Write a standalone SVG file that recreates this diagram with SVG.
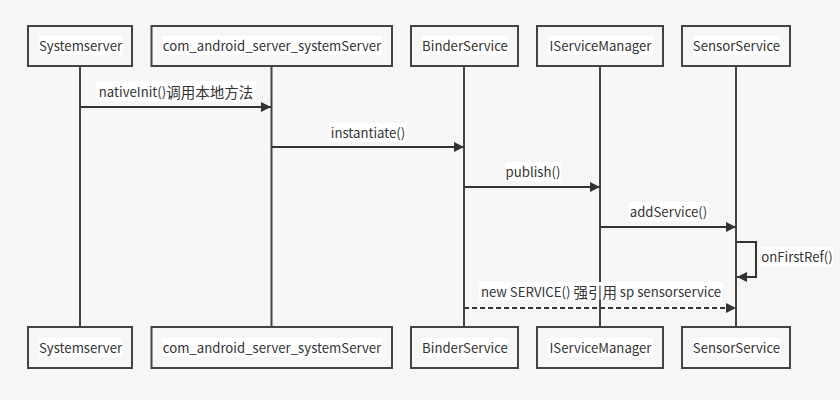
<svg xmlns="http://www.w3.org/2000/svg" width="840" height="400" viewBox="0 0 840 400">
<defs>
<style>
.box{fill:#f6f6f6;stroke:#444;stroke-width:2}
.life{stroke:#444;stroke-width:2;fill:none}
.msg{stroke:#333;stroke-width:2;fill:none}
.dash{stroke-dasharray:5,3}
.bg{fill:#ffffff}
.cjk{font-size:14.5px}
text{font-family:"Noto Sans CJK SC","Noto Sans",sans-serif;font-size:13.2px;fill:#333;text-anchor:middle;dominant-baseline:central}
</style>
<marker id="ah" viewBox="0 0 10 10" refX="10" refY="5" markerWidth="10" markerHeight="10" markerUnits="userSpaceOnUse" orient="auto">
<path d="M0,0 L10,5 L0,10 z" fill="#333"/>
</marker>
</defs>
<rect width="840" height="400" fill="#f6f6f6"/>
<g id="lifelines">
<line class="life" x1="80" y1="66" x2="80" y2="327"/>
<line class="life" x1="271.5" y1="66" x2="271.5" y2="327"/>
<line class="life" x1="464" y1="66" x2="464" y2="327"/>
<line class="life" x1="600" y1="66" x2="600" y2="327"/>
<line class="life" x1="736" y1="66" x2="736" y2="327"/>
</g>
<g id="systemserver">
<rect class="box" x="28" y="26" width="104" height="40"/>
<rect class="bg" x="39" y="36" width="83" height="19"/>
<text x="80.5" y="45.5">Systemserver</text>
<rect class="box" x="28" y="327" width="104" height="41"/>
<rect class="bg" x="39" y="338" width="83" height="19"/>
<text x="80.5" y="347">Systemserver</text>
</g>
<g id="com_android_server_systemServer">
<rect class="box" x="151.5" y="26" width="240.5" height="40"/>
<rect class="bg" x="162" y="36" width="220" height="19"/>
<text x="272" y="45.5">com_android_server_systemServer</text>
<rect class="box" x="151.5" y="327" width="240.5" height="41"/>
<rect class="bg" x="162" y="338" width="220" height="19"/>
<text x="272" y="347">com_android_server_systemServer</text>
</g>
<g id="binderservice">
<rect class="box" x="411" y="26" width="107" height="40"/>
<rect class="bg" x="422" y="36" width="86" height="19"/>
<text x="465" y="45.5">BinderService</text>
<rect class="box" x="411" y="327" width="107" height="41"/>
<rect class="bg" x="422" y="338" width="86" height="19"/>
<text x="465" y="347">BinderService</text>
</g>
<g id="iservicemanager">
<rect class="box" x="537" y="26" width="126" height="40"/>
<rect class="bg" x="548" y="36" width="105" height="19"/>
<text x="600.5" y="45.5">IServiceManager</text>
<rect class="box" x="537" y="327" width="126" height="41"/>
<rect class="bg" x="548" y="338" width="105" height="19"/>
<text x="600.5" y="347">IServiceManager</text>
</g>
<g id="sensorservice">
<rect class="box" x="682" y="26" width="108" height="40"/>
<rect class="bg" x="693" y="36" width="87" height="19"/>
<text x="736.5" y="45.5">SensorService</text>
<rect class="box" x="682" y="327" width="108" height="41"/>
<rect class="bg" x="693" y="338" width="87" height="19"/>
<text x="736.5" y="347">SensorService</text>
</g>
<g id="connectors">
<rect class="bg" x="96" y="81" width="160" height="20"/>
<text x="176" y="91">nativeInit()<tspan class="cjk">调用本地方法</tspan></text>
<line class="msg" x1="80" y1="107" x2="271" y2="107" marker-end="url(#ah)"/>
<rect class="bg" x="329" y="123" width="78" height="19"/>
<text x="368" y="132">instantiate()</text>
<line class="msg" x1="271.5" y1="147" x2="464" y2="147" marker-end="url(#ah)"/>
<rect class="bg" x="505" y="162" width="56" height="19"/>
<text x="533" y="171">publish()</text>
<line class="msg" x1="464" y1="187" x2="600" y2="187" marker-end="url(#ah)"/>
<rect class="bg" x="629" y="202" width="79" height="19"/>
<text x="668.5" y="211">addService()</text>
<line class="msg" x1="600" y1="227" x2="736" y2="227" marker-end="url(#ah)"/>
<path class="msg" d="M736,242 H756 V277 H737" marker-end="url(#ah)"/>
<rect class="bg" x="761" y="247" width="72" height="20"/>
<text x="797" y="256.5">onFirstRef()</text>
<rect class="bg" x="479" y="282" width="244" height="18"/>
<text x="601" y="291">new SERVICE() <tspan class="cjk">强引用</tspan> sp sensorservice</text>
<line class="msg dash" x1="464" y1="308" x2="736" y2="308" marker-end="url(#ah)"/>
</g>
</svg>
